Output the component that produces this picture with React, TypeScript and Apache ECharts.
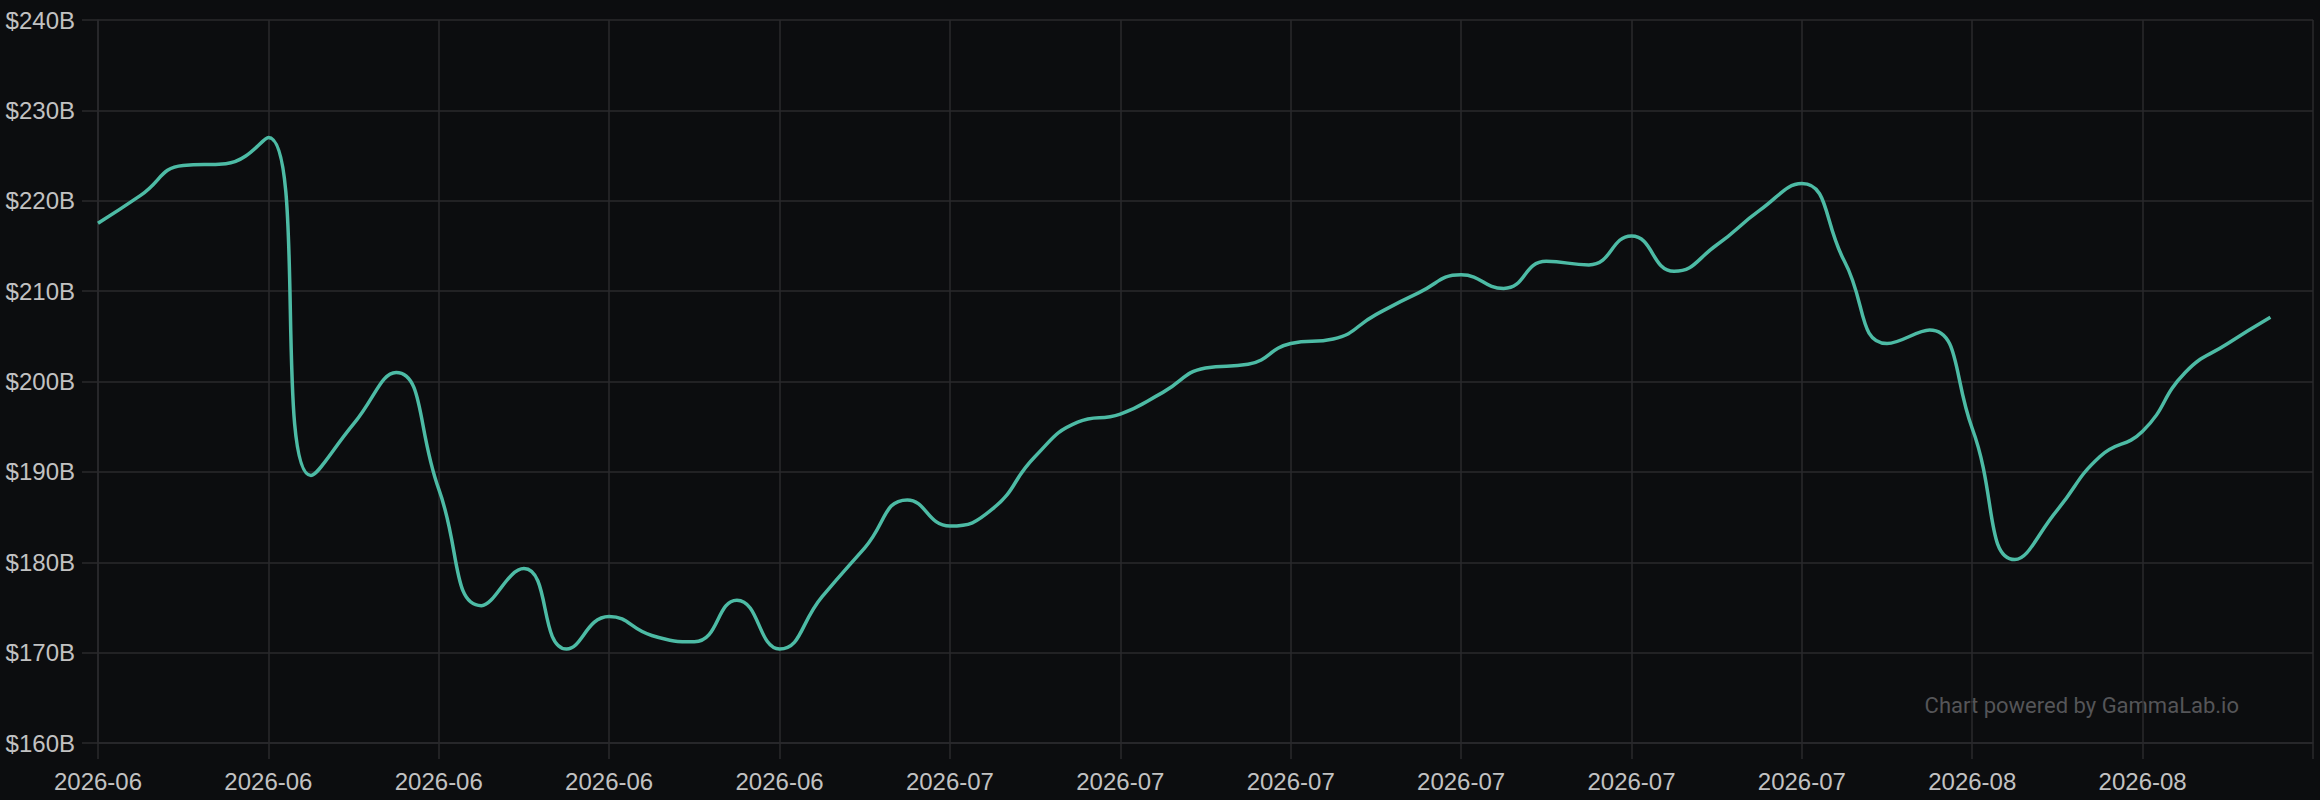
import React, { useEffect, useRef } from "react";
import * as echarts from "echarts";

const tickLabels: string[] = [
  "2026-06", "2026-06", "2026-06", "2026-06", "2026-06",
  "2026-07", "2026-07", "2026-07", "2026-07", "2026-07", "2026-07",
  "2026-08", "2026-08",
];

const STEPS_PER_TICK = 4;
const categories: string[] = Array.from(
  { length: tickLabels.length * STEPS_PER_TICK + 1 },
  (_, i) => `p${i}`
);

// values in billions of USD
const values: number[] = [
  217.5, 220.6, 223.9, 224.1, 227.0, 189.6, 195.3, 201.0, 188.1, 175.2,
  179.3, 170.4, 174.0, 171.9, 171.2, 175.8, 170.4, 176.2, 181.6, 186.9,
  184.0, 185.9, 191.7, 195.5, 196.4, 198.8, 201.5, 201.9, 204.2, 204.7,
  207.4, 209.8, 211.8, 210.3, 213.3, 212.9, 216.1, 212.2, 215.1, 218.9,
  221.9, 213.3, 204.2, 205.7, 194.8, 180.3, 185.8, 191.7, 194.5, 201.0,
  204.2, 207.1,
];

const yTicks = { min: 160, max: 240, interval: 10 };

const GRID_COLOR = "#2a2a2d";
const LABEL_COLOR = "#c2c2c2";
const BG = "#0c0d0f";
const LINE_COLOR = "#4dbba5";

export default function App() {
  const ref = useRef<HTMLDivElement>(null);
  useEffect(() => {
    document.body.style.margin = "0";
    const chart = echarts.init(ref.current!, null, { renderer: "svg" });
    chart.setOption({
      animation: false,
      backgroundColor: BG,
      grid: { left: 98, right: 7, top: 20, bottom: 57, containLabel: false },
      xAxis: {
        type: "category",
        data: categories,
        boundaryGap: false,
        axisLine: { show: true, lineStyle: { color: GRID_COLOR, width: 1.5 } },
        axisTick: {
          show: true,
          interval: STEPS_PER_TICK - 1,
          length: 16,
          lineStyle: { color: GRID_COLOR, width: 1.5 },
        },
        splitLine: {
          show: true,
          interval: STEPS_PER_TICK - 1,
          lineStyle: { color: GRID_COLOR, width: 1.5 },
        },
        axisLabel: {
          interval: STEPS_PER_TICK - 1,
          color: LABEL_COLOR,
          fontSize: 24,
          fontFamily: "Liberation Sans, Arial, sans-serif",
          margin: 26,
          formatter: (_v: string, idx: number) =>
            idx % STEPS_PER_TICK === 0 ? tickLabels[idx / STEPS_PER_TICK] ?? "" : "",
        },
      },
      yAxis: {
        type: "value",
        min: yTicks.min,
        max: yTicks.max,
        interval: yTicks.interval,
        axisLine: { show: true, lineStyle: { color: GRID_COLOR, width: 1.5 } },
        axisTick: { show: true, length: 16, lineStyle: { color: GRID_COLOR, width: 1.5 } },
        splitLine: { show: true, lineStyle: { color: GRID_COLOR, width: 1.5 } },
        axisLabel: {
          color: LABEL_COLOR,
          fontSize: 24,
          fontFamily: "Liberation Sans, Arial, sans-serif",
          margin: 23,
          formatter: (v: number) => `$${v}B`,
        },
      },
      graphic: [
        {
          type: "text",
          right: 2320 - 2239,
          top: 694,
          style: {
            text: "Chart powered by GammaLab.io",
            fill: "#555558",
            fontSize: 22,
            fontFamily: "Roboto, sans-serif",
          },
        },
      ],
      series: [
        {
          type: "line",
          data: values,
          smooth: 0.5,
          showSymbol: false,
          lineStyle: { color: LINE_COLOR, width: 3.5 },
          itemStyle: { color: LINE_COLOR },
        },
      ],
    });
    return () => chart.dispose();
  }, []);
  return (
    <div
      ref={ref}
      style={{ position: "absolute", left: 0, top: 0, width: 2320, height: 800 }}
    />
  );
}
